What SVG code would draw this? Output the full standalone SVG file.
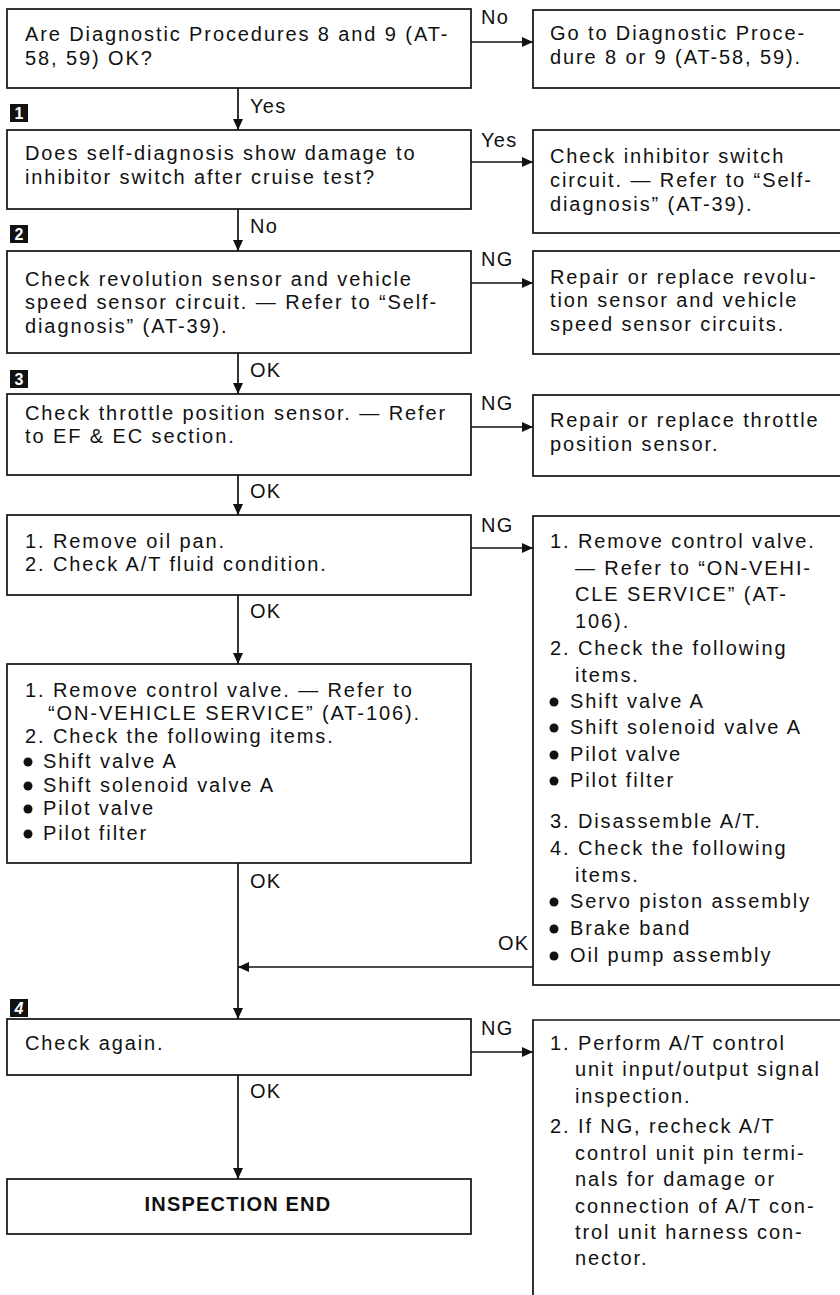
<svg xmlns="http://www.w3.org/2000/svg" width="840" height="1295" viewBox="0 0 840 1295">
<defs>
<marker id="ah" markerUnits="userSpaceOnUse" markerWidth="12" markerHeight="10" refX="11" refY="5" orient="auto">
<path d="M0,0 L11,5 L0,10 z" fill="#111"/>
</marker>
<style>
.box{fill:#fff;stroke:#111;stroke-width:1.7}
.t{font-family:"Liberation Sans",Arial,sans-serif;font-size:20px;letter-spacing:1.9px;fill:#111}
.b{font-weight:bold;letter-spacing:1.2px}
.lbl{font-family:"Liberation Sans",Arial,sans-serif;font-size:20px;letter-spacing:1.3px;fill:#111}
.badge{fill:#111}
.bn{font-family:"Liberation Sans",Arial,sans-serif;font-size:16px;font-weight:bold;fill:#fff;text-anchor:middle}
.c{stroke:#111;stroke-width:1.7;fill:none}
.a{marker-end:url(#ah)}
.dot{fill:#111}
</style>
</defs>
<rect width="840" height="1295" fill="#fff"/>

<g id="connectors">
<line class="c a" x1="238" y1="88" x2="238" y2="130"/>
<line class="c a" x1="238" y1="209" x2="238" y2="251"/>
<line class="c a" x1="238" y1="353" x2="238" y2="394"/>
<line class="c a" x1="238" y1="475" x2="238" y2="515"/>
<line class="c a" x1="238" y1="595" x2="238" y2="664"/>
<line class="c a" x1="238" y1="863" x2="238" y2="1019"/>
<line class="c a" x1="238" y1="1075" x2="238" y2="1179"/>
<line class="c a" x1="533" y1="967" x2="238" y2="967"/>
<line class="c a" x1="471" y1="42" x2="533" y2="42"/>
<line class="c a" x1="471" y1="162" x2="533" y2="162"/>
<line class="c a" x1="471" y1="283" x2="533" y2="283"/>
<line class="c a" x1="471" y1="427" x2="533" y2="427"/>
<line class="c a" x1="471" y1="548" x2="533" y2="548"/>
<line class="c a" x1="471" y1="1052" x2="533" y2="1052"/>
<text class="lbl" x="250" y="113">Yes</text>
<text class="lbl" x="250" y="233">No</text>
<text class="lbl" x="250" y="377">OK</text>
<text class="lbl" x="250" y="498">OK</text>
<text class="lbl" x="250" y="618">OK</text>
<text class="lbl" x="250" y="888">OK</text>
<text class="lbl" x="250" y="1098">OK</text>
<text class="lbl" x="498" y="950">OK</text>
<text class="lbl" x="481" y="24">No</text>
<text class="lbl" x="481" y="147">Yes</text>
<text class="lbl" x="481" y="266">NG</text>
<text class="lbl" x="481" y="410">NG</text>
<text class="lbl" x="481" y="532">NG</text>
<text class="lbl" x="481" y="1035">NG</text>
</g>

<g id="badge1"><rect class="badge" x="10" y="104" width="18" height="18"/><text class="bn" x="19" y="119">1</text></g>
<g id="badge2"><rect class="badge" x="10" y="225" width="18" height="18"/><text class="bn" x="19" y="240">2</text></g>
<g id="badge3"><rect class="badge" x="10" y="370" width="18" height="18"/><text class="bn" x="19" y="385">3</text></g>
<g id="badge4"><rect class="badge" x="10" y="999" width="18" height="18"/><text class="bn" x="19" y="1014" font-style="italic">4</text></g>

<g id="n1">
<rect class="box" x="7" y="9" width="464" height="79"/>
<text class="t" x="25" y="41">Are Diagnostic Procedures 8 and 9 (AT-</text>
<text class="t" x="25" y="65">58, 59) OK?</text>
</g>
<g id="r1">
<rect class="box" x="533" y="10" width="320" height="78"/>
<text class="t" x="550" y="40">Go to Diagnostic Proce-</text>
<text class="t" x="550" y="64">dure 8 or 9 (AT-58, 59).</text>
</g>

<g id="n2">
<rect class="box" x="7" y="130" width="464" height="79"/>
<text class="t" x="25" y="160">Does self-diagnosis show damage to</text>
<text class="t" x="25" y="184">inhibitor switch after cruise test?</text>
</g>
<g id="r2">
<rect class="box" x="533" y="130" width="320" height="103"/>
<text class="t" x="550" y="163">Check inhibitor switch</text>
<text class="t" x="550" y="187">circuit. — Refer to “Self-</text>
<text class="t" x="550" y="211">diagnosis” (AT-39).</text>
</g>

<g id="n3">
<rect class="box" x="7" y="251" width="464" height="102"/>
<text class="t" x="25" y="286">Check revolution sensor and vehicle</text>
<text class="t" x="25" y="309">speed sensor circuit. — Refer to “Self-</text>
<text class="t" x="25" y="333">diagnosis” (AT-39).</text>
</g>
<g id="r3">
<rect class="box" x="533" y="251" width="320" height="103"/>
<text class="t" x="550" y="284">Repair or replace revolu-</text>
<text class="t" x="550" y="307">tion sensor and vehicle</text>
<text class="t" x="550" y="331">speed sensor circuits.</text>
</g>

<g id="n4">
<rect class="box" x="7" y="394" width="464" height="81"/>
<text class="t" x="25" y="420">Check throttle position sensor. — Refer</text>
<text class="t" x="25" y="443">to EF &amp; EC section.</text>
</g>
<g id="r4">
<rect class="box" x="533" y="395" width="320" height="81"/>
<text class="t" x="550" y="427">Repair or replace throttle</text>
<text class="t" x="550" y="451">position sensor.</text>
</g>

<g id="n5">
<rect class="box" x="7" y="515" width="464" height="80"/>
<text class="t" x="25" y="548">1. Remove oil pan.</text>
<text class="t" x="25" y="571">2. Check A/T fluid condition.</text>
</g>
<g id="r5">
<rect class="box" x="533" y="516" width="320" height="469"/>
<text class="t" x="550" y="548">1. Remove control valve.</text>
<text class="t" x="575" y="575">— Refer to “ON-VEHI-</text>
<text class="t" x="575" y="601">CLE SERVICE” (AT-</text>
<text class="t" x="575" y="628">106).</text>
<text class="t" x="550" y="655">2. Check the following</text>
<text class="t" x="575" y="682">items.</text>
<circle class="dot" cx="554" cy="702" r="4.5"/><text class="t" x="570" y="708">Shift valve A</text>
<circle class="dot" cx="554" cy="728" r="4.5"/><text class="t" x="570" y="734">Shift solenoid valve A</text>
<circle class="dot" cx="554" cy="755" r="4.5"/><text class="t" x="570" y="761">Pilot valve</text>
<circle class="dot" cx="554" cy="781" r="4.5"/><text class="t" x="570" y="787">Pilot filter</text>
<text class="t" x="550" y="828">3. Disassemble A/T.</text>
<text class="t" x="550" y="855">4. Check the following</text>
<text class="t" x="575" y="882">items.</text>
<circle class="dot" cx="554" cy="902" r="4.5"/><text class="t" x="570" y="908">Servo piston assembly</text>
<circle class="dot" cx="554" cy="929" r="4.5"/><text class="t" x="570" y="935">Brake band</text>
<circle class="dot" cx="554" cy="956" r="4.5"/><text class="t" x="570" y="962">Oil pump assembly</text>
</g>

<g id="n6">
<rect class="box" x="7" y="664" width="464" height="199"/>
<text class="t" x="25" y="697">1. Remove control valve. — Refer to</text>
<text class="t" x="48" y="720">“ON-VEHICLE SERVICE” (AT-106).</text>
<text class="t" x="25" y="743">2. Check the following items.</text>
<circle class="dot" cx="28" cy="762" r="4.5"/><text class="t" x="43" y="768">Shift valve A</text>
<circle class="dot" cx="28" cy="786" r="4.5"/><text class="t" x="43" y="792">Shift solenoid valve A</text>
<circle class="dot" cx="28" cy="809" r="4.5"/><text class="t" x="43" y="815">Pilot valve</text>
<circle class="dot" cx="28" cy="834" r="4.5"/><text class="t" x="43" y="840">Pilot filter</text>
</g>

<g id="n7">
<rect class="box" x="7" y="1019" width="464" height="56"/>
<text class="t" x="25" y="1050">Check again.</text>
</g>
<g id="r7">
<path class="c" d="M533,1300 V1020 H850"/>
<text class="t" x="550" y="1050">1. Perform A/T control</text>
<text class="t" x="575" y="1076">unit input/output signal</text>
<text class="t" x="575" y="1103">inspection.</text>
<text class="t" x="550" y="1133">2. If NG, recheck A/T</text>
<text class="t" x="575" y="1160">control unit pin termi-</text>
<text class="t" x="575" y="1186">nals for damage or</text>
<text class="t" x="575" y="1213">connection of A/T con-</text>
<text class="t" x="575" y="1239">trol unit harness con-</text>
<text class="t" x="575" y="1265">nector.</text>
</g>

<g id="n8">
<rect class="box" x="7" y="1179" width="464" height="55"/>
<text class="t b" x="238" y="1211" text-anchor="middle">INSPECTION END</text>
</g>
</svg>
